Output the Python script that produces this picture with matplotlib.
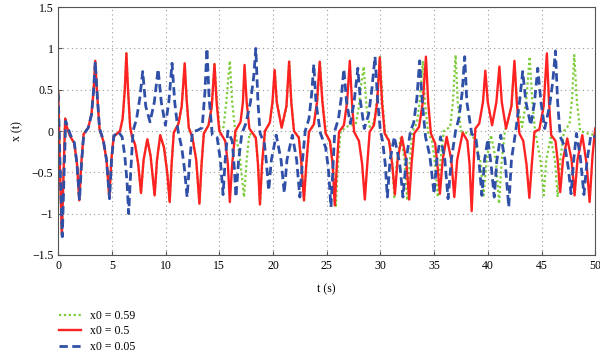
import matplotlib
matplotlib.use("Agg")
import matplotlib.pyplot as plt

# x0 = 0.5 (red, solid)
t_red = [0.0, 0.15, 0.34, 0.5, 0.65, 0.8, 1.1, 1.5, 1.75, 1.96, 2.15, 2.36, 2.8, 3.1, 3.3, 3.45, 3.6, 3.85,
         4.2, 4.5, 4.76, 4.95, 5.16, 5.75, 6.0, 6.2, 6.35, 6.5, 6.7, 6.87, 7.15, 7.45, 7.71, 7.95, 8.3, 8.6,
         8.98, 9.2, 9.5, 9.85, 10.15, 10.38, 10.56, 10.76, 11.2, 11.5, 11.78, 11.95, 12.16, 12.5, 12.85, 13.15,
         13.35, 13.56, 14.0, 14.3, 14.55, 14.75, 15.0, 15.55, 15.8, 15.98, 16.2, 16.5, 16.98, 17.2, 17.35, 17.55,
         17.8, 18.4, 18.6, 18.78, 18.98, 19.25, 19.7, 19.95, 20.15, 20.35, 20.8, 21.25, 21.5, 21.7, 21.95, 22.4,
         22.65, 22.88, 23.1, 23.35, 23.8, 24.1, 24.35, 24.6, 24.9, 25.3, 25.55, 25.75, 25.95, 26.15, 26.6, 26.9,
         27.15, 27.35, 27.55, 28.0, 28.3, 28.55, 28.78, 29.0, 29.4, 29.7, 29.94, 30.15, 30.4, 30.8, 31.1, 31.35,
         31.6, 32.0, 32.4, 32.68, 32.9, 33.15, 33.6, 33.95, 34.24, 34.45, 34.7, 35.1, 35.3, 35.54, 35.8, 36.17,
         36.6, 36.88, 37.15, 37.66, 38.1, 38.3, 38.5, 38.68, 38.84, 39.2, 39.55, 39.77, 40.0, 40.4, 40.8, 41.08,
         41.3, 41.7, 42.2, 42.48, 42.7, 42.94, 43.3, 43.6, 43.87, 44.1, 44.34, 44.8, 45.2, 45.5, 45.7, 45.9,
         46.3, 46.5, 46.74, 47.0, 47.4, 47.8, 48.08, 48.35, 48.8, 49.2, 49.48, 49.75, 50.0]
x_red = [0.48, -0.4, -1.26, -0.5, 0.15, 0.05, -0.06, -0.15, -0.4, -0.84, -0.4, -0.04, 0.04, 0.2, 0.5, 0.85, 0.5, 0.02,
         -0.12, -0.35, -0.81, -0.35, -0.07, 0.0, 0.15, 0.5, 0.94, 0.5, 0.05, -0.07, -0.16, -0.4, -0.75, -0.35, -0.1, -0.3,
         -0.78, -0.35, -0.05, -0.2, -0.5, -0.86, -0.4, -0.02, 0.09, 0.3, 0.82, 0.4, 0.04, -0.08, -0.35, -0.88,
         -0.4, -0.03, 0.07, 0.3, 0.81, 0.35, 0.0, -0.12, -0.4, -0.86, -0.4, 0.0, 0.11, 0.35, 0.80, 0.35,
         0.03, -0.08, -0.4, -0.89, -0.4, 0.0, 0.1, 0.35, 0.74, 0.35, 0.04, 0.3, 0.84, 0.35, 0.0, -0.08,
         -0.4, -0.84, -0.4, -0.01, 0.08, 0.35, 0.84, 0.35, -0.03, -0.12, -0.4, -0.9, -0.4, -0.01, 0.07, 0.35,
         0.85, 0.35, -0.01, -0.12, -0.4, -0.83, -0.4, -0.01, 0.07, 0.35, 0.89, 0.35, -0.03, -0.12, -0.4, -0.77,
         -0.35, -0.07, -0.35, -0.83, -0.4, -0.03, 0.05, 0.35, 0.90, 0.35, -0.03, -0.15, -0.4, -0.76, -0.35, -0.07,
         -0.35, -0.80, -0.35, -0.02, -0.12, -0.4, -0.97, -0.4, 0.03, 0.09, 0.35, 0.73, 0.35, 0.07, 0.35, 0.78,
         0.35, 0.03, 0.3, 0.85, 0.35, -0.03, -0.12, -0.4, -0.81, -0.4, -0.01, 0.02, 0.3, 0.94, 0.35, -0.05,
         -0.12, -0.35, -0.74, -0.35, -0.09, -0.35, -0.78, -0.35, -0.05, -0.4, -0.86, -0.3, 0.03]

# x0 = 0.05 (blue, dashed)
t_blue = [0.0, 0.17, 0.38, 0.55, 0.7, 0.85, 1.15, 1.5, 1.75, 1.98, 2.17, 2.38, 2.8, 3.1, 3.3, 3.45, 3.6, 3.85,
          4.2, 4.5, 4.78, 4.97, 5.18, 5.6, 5.95, 6.2, 6.4, 6.56, 6.75, 6.97, 7.3, 7.6, 7.87, 8.15, 8.55, 8.95,
          9.3, 9.6, 9.98, 10.3, 10.6, 10.85, 11.16, 11.5, 11.75, 12.0, 12.25, 12.5, 13.0, 13.4, 13.65, 13.85,
          14.05, 14.35, 14.8, 15.1, 15.35, 15.55, 15.8, 16.2, 16.4, 16.55, 16.8, 17.1, 17.5, 17.9, 18.2, 18.4,
          18.6, 18.8, 19.2, 19.4, 19.6, 19.85, 20.3, 20.75, 21.05, 21.3, 21.8, 22.2, 22.5, 22.75, 23.0, 23.35,
          23.6, 23.8, 24.0, 24.4, 24.9, 25.15, 25.4, 25.6, 25.75, 26.1, 26.35, 26.6, 26.85, 27.2, 27.55, 27.9,
          28.15, 28.5, 28.9, 29.2, 29.5, 29.75, 30.0, 30.2, 30.45, 30.65, 30.9, 31.3, 31.8, 32.1, 32.4, 32.8,
          33.1, 33.4, 33.65, 33.9, 34.2, 34.6, 35.0, 35.25, 35.6, 36.0, 36.3, 36.6, 37.0, 37.3, 37.6, 37.85,
          38.05, 38.5, 38.9, 39.2, 39.45, 39.7, 40.0, 40.3, 40.6, 40.85, 41.2, 41.6, 41.95, 42.2, 42.6, 42.95,
          43.25, 43.55, 44.0, 44.35, 44.65, 44.95, 45.3, 45.75, 46.05, 46.3, 46.5, 46.75, 47.2, 47.5, 47.75, 48.0,
          48.25, 48.6, 48.95, 49.25, 49.6, 50.0]
x_blue = [0.46, -0.4, -1.28, -0.5, 0.12, 0.06, -0.05, -0.14, -0.4, -0.84, -0.4, -0.04, 0.04, 0.2, 0.5, 0.84, 0.5, 0.03,
          -0.11, -0.35, -0.82, -0.35, -0.06, -0.01, -0.07, -0.3, -0.6, -1.0, -0.5, 0.0, 0.15, 0.4, 0.72, 0.3, 0.11, 0.35,
          0.75, 0.35, 0.07, 0.35, 0.82, 0.35, 0.0, -0.2, -0.45, -0.80, -0.35, -0.01, 0.01, 0.04, 0.45, 1.0,
          0.4, -0.05, -0.08, -0.35, -0.77, -0.35, 0.0, -0.12, -0.45, -0.8, -0.35, -0.03, 0.1, 0.35, 0.65, 1.0,
          0.35, -0.03, -0.15, -0.4, -0.72, -0.35, -0.05, -0.35, -0.75, -0.35, -0.05, -0.35, -0.8, -0.35, 0.0, 0.15,
          0.45, 0.81, 0.35, -0.02, -0.2, -0.45, -0.92, -0.4, 0.0, 0.15, 0.4, 0.75, 0.35, 0.09, 0.35, 0.76,
          0.35, 0.03, 0.2, 0.5, 0.9, 0.35, 0.0, -0.12, -0.4, -0.8, -0.35, -0.07, -0.4, -0.8, -0.35, 0.0,
          0.1, 0.4, 0.85, 0.35, -0.07, -0.3, -0.76, -0.35, -0.07, -0.35, -0.82, -0.35, 0.0, 0.15, 0.45, 0.9,
          0.35, -0.03, -0.1, -0.4, -0.78, -0.35, -0.1, -0.4, -0.8, -0.35, -0.05, -0.35, -0.92, -0.35, 0.0, 0.35,
          0.72, 0.35, 0.07, 0.35, 0.76, 0.35, 0.03, 0.3, 0.6, 0.97, 0.35, -0.07, -0.2, -0.45, -0.76, -0.35,
          -0.03, -0.3, -0.77, -0.35, -0.05, -0.07]

# x0 = 0.59 (green, dotted)
t_green = [0.0, 0.15, 0.34, 0.5, 0.65, 0.8, 1.1, 1.5, 1.75, 1.96, 2.15, 2.36, 2.8, 3.1, 3.3, 3.45, 3.6, 3.85,
           4.2, 4.5, 4.76, 4.95, 5.16, 5.75, 6.0, 6.2, 6.35, 6.5, 6.7, 6.87, 7.15, 7.45, 7.71, 7.95, 8.3, 8.6,
           8.98, 9.2, 9.5, 9.85, 10.15, 10.38, 10.56, 10.76, 11.2, 11.5, 11.78, 11.95, 12.16, 12.5, 12.85, 13.15,
           13.35, 13.56, 14.0, 14.3, 14.55, 14.8, 15.05, 15.4, 15.65, 15.98, 16.2, 16.5, 16.9, 17.3, 17.55, 17.8,
           18.4, 18.62, 18.8, 19.0, 19.28, 19.7, 19.97, 20.17, 20.37, 20.82, 21.27, 21.52, 21.72, 21.97, 22.42,
           22.67, 22.9, 23.12, 23.37, 23.82, 24.12, 24.37, 24.62, 24.95, 25.35, 25.62, 25.85, 26.05, 26.3, 27.0,
           27.7, 28.0, 28.2, 28.45, 28.7, 29.0, 29.4, 29.7, 29.97, 30.2, 30.45, 30.85, 31.1, 31.3, 31.55, 31.9,
           32.25, 32.5, 32.75, 33.0, 33.4, 33.7, 33.95, 34.15, 34.45, 34.8, 35.1, 35.35, 35.6, 35.9, 36.5, 36.75,
           37.0, 37.2, 37.5, 38.6, 39.3, 39.6, 39.9, 40.3, 40.75, 41.05, 41.3, 41.6, 42.2, 42.5, 42.75, 43.2,
           43.6, 43.9, 44.15, 44.4, 44.9, 45.2, 45.45, 45.85, 46.25, 46.5, 46.75, 47.1, 47.6, 47.85, 48.05, 48.3,
           48.6, 49.3, 50.0]
x_green = [0.49, -0.4, -1.26, -0.5, 0.15, 0.05, -0.06, -0.15, -0.4, -0.84, -0.4, -0.04, 0.04, 0.2, 0.5, 0.85, 0.5, 0.02,
           -0.12, -0.35, -0.81, -0.35, -0.07, 0.0, 0.15, 0.5, 0.94, 0.5, 0.05, -0.07, -0.16, -0.4, -0.75, -0.35, -0.1, -0.3,
           -0.78, -0.35, -0.05, -0.2, -0.5, -0.86, -0.4, -0.02, 0.09, 0.3, 0.82, 0.4, 0.04, -0.08, -0.35, -0.88,
           -0.4, -0.03, 0.07, 0.3, 0.81, 0.35, 0.0, 0.05, 0.35, 0.85, 0.35, -0.03, -0.3, -0.8, -0.35, -0.03,
           -0.08, -0.4, -0.88, -0.4, 0.0, 0.1, 0.35, 0.74, 0.35, 0.04, 0.3, 0.84, 0.35, 0.0, -0.08,
           -0.4, -0.84, -0.4, -0.01, 0.08, 0.35, 0.84, 0.35, -0.03, -0.15, -0.45, -0.92, -0.4, 0.0, 0.06,
           0.08, 0.3, 0.55, 0.78, 0.3, 0.05, 0.1, 0.4, 0.9, 0.35, -0.03, -0.12, -0.4, -0.8, -0.35, -0.07,
           -0.35, -0.84, -0.35, 0.0, 0.1, 0.4, 0.85, 0.35, -0.02, -0.12, -0.4, -0.8, -0.35, 0.0, 0.05, 0.35,
           0.92, 0.35, 0.0, -0.05, -0.35, -0.78, -0.35, -0.05, -0.35, -0.88, -0.35, 0.0, 0.3, 0.8, 0.3, 0.05,
           0.4, 0.9, 0.35, 0.0, -0.35, -0.78, -0.35, -0.08, -0.35, -0.8, -0.35, 0.0, 0.08, 0.4, 0.92, 0.35,
           0.0, -0.03, -0.05]

plt.rcParams['font.family'] = ['Liberation Serif', 'DejaVu Serif']

fig = plt.figure(figsize=(6, 3.56), dpi=100)
ax = fig.add_axes([0.097, 0.284, 0.895, 0.696])

ax.plot(t_green, x_green, color='#7ccc3a', linestyle=(0, (1, 1.2)), linewidth=1.6, label='x0 = 0.59')
ax.plot(t_red, x_red, color='#ff2222', linestyle='-', linewidth=1.7, label='x0 = 0.5')
ax.plot(t_blue, x_blue, color='#3050a8', linestyle=(0, (3, 1.6)), linewidth=2.0, label='x0 = 0.05')

ax.set_xlim(0, 50)
ax.set_ylim(-1.5, 1.5)
ax.set_xticks([0, 5, 10, 15, 20, 25, 30, 35, 40, 45, 50])
ax.set_yticks([-1.5, -1, -0.5, 0, 0.5, 1, 1.5])
ax.set_yticklabels(['\u22121.5', '\u22121', '\u22120.5', '0', '0.5', '1', '1.5'])
ax.tick_params(direction='in', labelsize=8.5, length=3, color='#555555')
ax.grid(True, linestyle=(0, (1, 3)), color='#999999', linewidth=0.8)
for s in ax.spines.values():
    s.set_color('#555555')
ax.set_xlabel('t (s)', fontsize=8.5, labelpad=8)
ax.set_ylabel('x (t)', fontsize=8.5, labelpad=6)

fig.legend(loc='upper left', bbox_to_anchor=(0.085, 0.152), frameon=False, fontsize=8.5,
           handlelength=1.8, labelspacing=0.28, borderpad=0.2)

fig.savefig('out.png', dpi=100)
